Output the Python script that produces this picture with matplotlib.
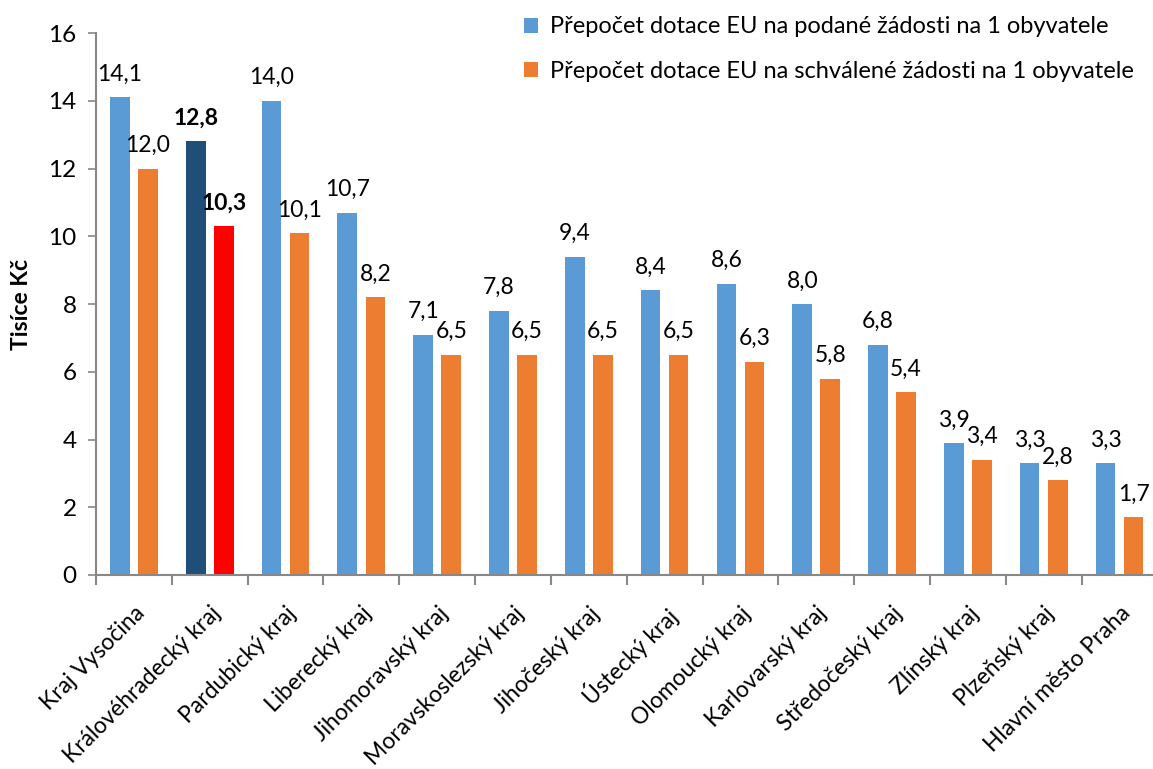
import numpy as np
import matplotlib
matplotlib.use("Agg")
import matplotlib.pyplot as plt

# --- Datos -----------------------------------------------------------------------------
kraje = ["Kraj Vysočina", "Královéhradecký kraj", "Pardubický kraj", "Liberecký kraj",
         "Jihomoravský kraj", "Moravskoslezský kraj", "Jihočeský kraj", "Ústecký kraj",
         "Olomoucký kraj", "Karlovarský kraj", "Středočeský kraj", "Zlínský kraj",
         "Plzeňský kraj", "Hlavní město Praha"]
podane = [14.1, 12.8, 14.0, 10.7, 7.1, 7.8, 9.4, 8.4, 8.6, 8.0, 6.8, 3.9, 3.3, 3.3]
schvalene = [12.0, 10.3, 10.1, 8.2, 6.5, 6.5, 6.5, 6.5, 6.3, 5.8, 5.4, 3.4, 2.8, 1.7]
leg_podane = "Přepočet dotace EU na podané žádosti na 1 obyvatele"
leg_schvalene = "Přepočet dotace EU na schválené žádosti na 1 obyvatele"
zvyraznit = 1   # Královéhradecký kraj

plt.rcParams['font.family'] = ['Lato', 'DejaVu Sans']

c_blue, c_orange = "#5B9BD5", "#ED7D31"
c_blue_hl, c_orange_hl = "#1F4E79", "#FF0000"

fig = plt.figure(figsize=(11.53, 7.69), dpi=100)
ax = fig.add_axes([0.0833, 0.2523, 0.9205, 0.7047])

x = np.arange(len(kraje))
w = 0.26
off = 0.185
col1 = [c_blue_hl if i == zvyraznit else c_blue for i in x]
col2 = [c_orange_hl if i == zvyraznit else c_orange for i in x]
b1 = ax.bar(x - off, podane, w, color=col1, label=leg_podane)
b2 = ax.bar(x + off, schvalene, w, color=col2, label=leg_schvalene)

for bars, vals in ((b1, podane), (b2, schvalene)):
    for i, (b, v) in enumerate(zip(bars, vals)):
        ax.annotate(f"{v:.1f}".replace(".", ","), (b.get_x() + b.get_width()/2, v),
                    xytext=(0, 9), textcoords="offset points", ha="center", va="bottom",
                    fontsize=16.5, fontweight="bold" if i == zvyraznit else "normal")

ax.set_xlim(-0.5, len(kraje) - 0.5)
ax.set_ylim(0, 16)
ax.set_yticks(range(0, 17, 2))
ax.tick_params(axis="y", labelsize=17.5, color="#888888", length=6, width=1.2, pad=8)
ax.set_xticks(x)
ax.set_xticklabels(kraje, rotation=45, ha="right", rotation_mode="anchor", fontsize=16.5)
ax.tick_params(axis="x", length=0, pad=20)
ax.set_xticks(np.arange(-0.5, len(kraje), 1), minor=True)
ax.tick_params(axis="x", which="minor", length=7, width=1.5, color="#888888")
for s in ("top", "right"):
    ax.spines[s].set_visible(False)
for s in ("left", "bottom"):
    ax.spines[s].set_color("#888888")
    ax.spines[s].set_linewidth(1.5)
ax.set_ylabel("Tisíce Kč", fontsize=16.5, fontweight="bold", labelpad=12)

ax.legend(loc="upper left", bbox_to_anchor=(0.383, 1.07), frameon=False, fontsize=17,
          handlelength=0.6, handleheight=0.6, handletextpad=0.5, labelspacing=1.0)

fig.savefig("out.png", dpi=100)
